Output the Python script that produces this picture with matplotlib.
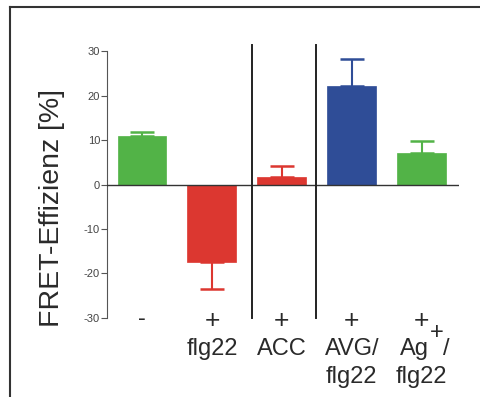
import matplotlib
matplotlib.use("Agg")
import matplotlib.pyplot as plt
from matplotlib.lines import Line2D
from matplotlib.transforms import offset_copy
import numpy as np

plt.rcParams['font.family'] = ['Liberation Sans', 'DejaVu Sans']

signs = ["-", "+", "+", "+", "+"]
line1 = ["", "flg22", "ACC", "AVG/", "Ag"]
line2 = ["", "", "", "flg22", "flg22"]
values = [10.8, -17.5, 1.6, 22.2, 7.1]
errors = [0.9, 5.9, 2.5, 6.0, 2.6]
colors = ["#52b347", "#dc3730", "#dc3730", "#2f4d97", "#52b347"]
separators = [1.57, 2.49]
yticks = [-30, -20, -10, 0, 10, 20, 30]

fig = plt.figure(figsize=(4.8, 3.97), dpi=100)
ax = fig.add_axes([0.223, 0.199, 0.733, 0.6725])

x = np.arange(len(values))
ax.bar(x, values, width=0.7, color=colors, edgecolor=colors, linewidth=0.5, zorder=2)
for xi, v, e, c in zip(x, values, errors, colors):
    lo = [0] if v >= 0 else [e]
    hi = [e] if v >= 0 else [0]
    ax.errorbar([xi], [v], yerr=[lo, hi], fmt='none', ecolor=c, elinewidth=1.5,
                capsize=8.5, capthick=1.8, zorder=3)

ax.axhline(0, color='#333333', lw=1.0, zorder=4)
for s in separators:
    ax.plot([s, s], [-30, 31.3], color='#222222', lw=1.4, clip_on=False, zorder=4)

ax.set_xlim(-0.5, 4.53)
ax.set_ylim(-30, 30)
ax.set_yticks(yticks)
ax.set_yticklabels([str(t) for t in yticks], fontsize=8, color='#444444')
ax.tick_params(axis='y', length=4, width=0.8, color='#555555', pad=1)
ax.set_xticks([])
for sp in ['top', 'right', 'bottom']:
    ax.spines[sp].set_visible(False)
ax.spines['left'].set_color('#555555')
ax.spines['left'].set_linewidth(0.8)

tc = '#2a2a2a'
def off(dx, dy):
    return offset_copy(ax.transData, fig=fig, x=dx, y=dy, units='dots')

for xi, s, t1, t2 in zip(x, signs, line1, line2):
    if s == '+':
        ax.text(xi, -30, s, ha='center', va='center_baseline', fontsize=19, color=tc,
                clip_on=False, transform=off(0, -1))
    else:
        ax.text(xi, -30, s, ha='center', va='center_baseline', fontsize=17, color=tc,
                clip_on=False, transform=off(0, 1))
    if t1 == 'Ag':
        ax.text(xi, -30, t1, ha='right', va='baseline', fontsize=17, color=tc,
                clip_on=False, transform=off(7, -37))
        ax.text(xi, -30, '+', ha='center', va='center_baseline', fontsize=17, color=tc,
                clip_on=False, transform=off(15, -13))
        ax.text(xi, -30, '/', ha='left', va='baseline', fontsize=17, color=tc,
                clip_on=False, transform=off(21, -37))
    elif t1:
        ax.text(xi, -30, t1, ha='center', va='baseline', fontsize=17, color=tc,
                clip_on=False, transform=off(0, -37))
    if t2:
        ax.text(xi, -30, t2, ha='center', va='baseline', fontsize=17, color=tc,
                clip_on=False, transform=off(0, -65))

fig.text(52 / 480, 1 - 208 / 397, "FRET-Effizienz [%]", rotation=90, ha='center',
         va='center', fontsize=20.5, color=tc)

fig.add_artist(Line2D([0.021, 1.0], [0.982, 0.982], transform=fig.transFigure,
                      color='#333333', lw=1.5))
fig.add_artist(Line2D([0.021, 0.021], [0.0, 0.982], transform=fig.transFigure,
                      color='#333333', lw=1.5))

fig.savefig("out.png", dpi=100)
